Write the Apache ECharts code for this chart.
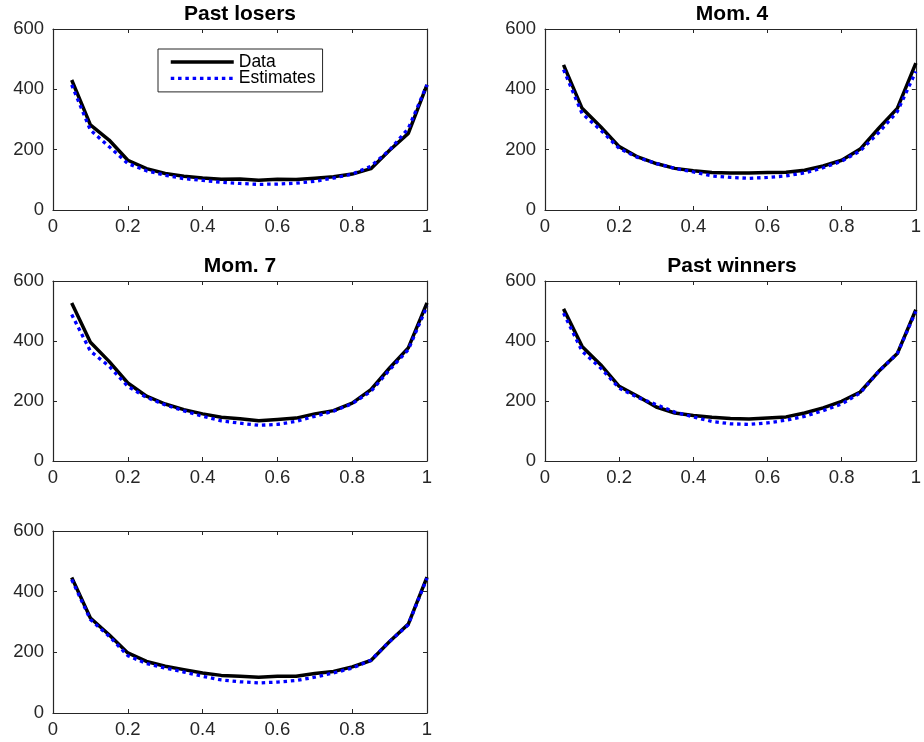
<!DOCTYPE html>
<html>
<head>
<meta charset="utf-8">
<title>U-shaped profiles: data vs. estimates</title>
<script src="https://cdn.jsdelivr.net/npm/echarts@6/dist/echarts.min.js"></script>
<style>
  html, body { margin: 0; padding: 0; background: #fff; }
  #chart { width: 924px; height: 742px; }
</style>
</head>
<body>
<div id="chart"></div>
<script>
// Horizontal grid shared by all panels
const xs = [0.05, 0.10, 0.15, 0.20, 0.25, 0.30, 0.35, 0.40, 0.45, 0.50,
            0.55, 0.60, 0.65, 0.70, 0.75, 0.80, 0.85, 0.90, 0.95, 1.00];

// Panel titles (the last panel has none)
const titles = ['Past losers', 'Mom. 4', 'Mom. 7', 'Past winners', ''];

// Series names
const seriesNames = ['Data', 'Estimates'];

// Past losers
const losersData = [431, 282, 232, 165, 137, 121, 112, 106, 102, 103,
                    99, 102, 101, 105, 110, 119, 137, 198, 254, 415];
const losersEst  = [415, 265, 210, 154, 130, 115, 104, 98, 92, 88,
                    85, 86, 89, 95, 106, 119, 145, 199, 270, 415];

// Mom. 4
const mom4Data = [481, 337, 276, 210, 176, 154, 138, 130, 124, 123,
                  123, 124, 125, 132, 146, 165, 202, 271, 337, 487];
const mom4Est  = [465, 320, 265, 204, 174, 154, 138, 126, 113, 108,
                  105, 108, 113, 123, 140, 162, 196, 257, 326, 459];

// Mom. 7
const mom7Data = [527, 396, 332, 260, 216, 190, 171, 157, 146, 141,
                  134, 138, 143, 157, 168, 193, 238, 310, 377, 527];
const mom7Est  = [488, 366, 316, 249, 212, 187, 167, 149, 134, 126,
                  119, 122, 132, 149, 166, 191, 232, 304, 371, 516];

// Past winners
const winnersData = [507, 382, 321, 249, 216, 180, 160, 152, 146, 142,
                     140, 143, 147, 160, 177, 199, 230, 299, 358, 504];
const winnersEst  = [493, 366, 310, 243, 212, 188, 163, 147, 132, 124,
                     122, 127, 136, 149, 168, 190, 227, 299, 358, 499];

// Fifth portfolio
const fifthData = [447, 313, 258, 198, 170, 154, 143, 132, 124, 121,
                   118, 121, 121, 130, 137, 152, 173, 236, 293, 448];
const fifthEst  = [440, 308, 253, 189, 163, 148, 135, 121, 109, 103,
                   99, 102, 107, 118, 132, 148, 174, 236, 291, 445];

const panelSeries = [
  [losersData, losersEst],
  [mom4Data, mom4Est],
  [mom7Data, mom7Est],
  [winnersData, winnersEst],
  [fifthData, fifthEst]
];

// Axis ranges and ticks
const xMin = 0, xMax = 1, xStep = 0.2;
const yMin = 0, yMax = 600, yStep = 200;

// Panel placement in pixels
const grids = [
  { left: 53,  top: 29,  width: 374, height: 181 },
  { left: 545, top: 29,  width: 374, height: 181 },
  { left: 53,  top: 281, width: 374, height: 180 },
  { left: 545, top: 281, width: 374, height: 180 },
  { left: 53,  top: 531, width: 374, height: 182 }
];

const FONT = '"Liberation Sans", Arial, Helvetica, sans-serif';
const AXIS_COLOR = '#262626';
const TICK_FONT = 18.5;

function axisBase(showLabel) {
  return {
    axisLine: { show: true, onZero: false, lineStyle: { color: AXIS_COLOR, width: 1.2 } },
    axisTick: { show: true, inside: true, length: 4, lineStyle: { color: AXIS_COLOR, width: 1 } },
    splitLine: { show: false },
    axisLabel: {
      show: showLabel,
      color: AXIS_COLOR,
      fontFamily: FONT,
      fontSize: TICK_FONT
    }
  };
}

const xAxes = [], yAxes = [], series = [], titleList = [];

grids.forEach((g, i) => {
  // bottom + top (box) x axes
  ['bottom', 'top'].forEach((pos, k) => {
    const a = axisBase(k === 0);
    a.type = 'value'; a.gridIndex = i; a.position = pos;
    a.min = xMin; a.max = xMax; a.interval = xStep;
    a.axisLabel.margin = 7;
    xAxes.push(a);
  });
  // left + right (box) y axes
  ['left', 'right'].forEach((pos, k) => {
    const a = axisBase(k === 0);
    a.type = 'value'; a.gridIndex = i; a.position = pos;
    a.min = yMin; a.max = yMax; a.interval = yStep;
    a.axisLabel.margin = 9;
    yAxes.push(a);
  });

  const [dataVals, estVals] = panelSeries[i];
  series.push({
    name: seriesNames[0],
    type: 'line',
    xAxisIndex: 2 * i, yAxisIndex: 2 * i,
    data: xs.map((x, j) => [x, dataVals[j]]),
    symbol: 'none',
    silent: true,
    z: 2,
    lineStyle: { color: '#000000', width: 3.5, join: 'round' },
    itemStyle: { color: '#000000' }
  });
  series.push({
    name: seriesNames[1],
    type: 'line',
    xAxisIndex: 2 * i, yAxisIndex: 2 * i,
    data: xs.map((x, j) => [x, estVals[j]]),
    symbol: 'none',
    silent: true,
    z: 3,
    lineStyle: { color: '#0000ff', width: 3.3, type: [3.5, 3.8], cap: 'butt' },
    itemStyle: { color: '#0000ff' }
  });

  if (titles[i]) {
    titleList.push({
      text: titles[i],
      left: g.left + g.width / 2,
      top: g.top - 25,
      textAlign: 'center',
      padding: 0,
      textStyle: { fontFamily: FONT, fontSize: 21, fontWeight: 'bold', color: '#000' }
    });
  }
});

const chart = echarts.init(document.getElementById('chart'), null, { renderer: 'canvas' });
chart.setOption({
  animation: false,
  backgroundColor: '#ffffff',
  title: titleList,
  grid: grids,
  xAxis: xAxes,
  yAxis: yAxes,
  legend: {
    data: seriesNames,
    orient: 'vertical',
    left: 158,
    top: 49,
    padding: [4, 7, 4.5, 11],
    itemWidth: 63,
    itemHeight: 14,
    itemGap: -1.6,
    selectedMode: false,
    backgroundColor: '#ffffff',
    borderColor: AXIS_COLOR,
    borderWidth: 1,
    borderRadius: 0,
    // line-only legend keys, drawn at the series' own stroke width
    itemStyle: { color: 'transparent', borderWidth: 0, opacity: 0 },
    lineStyle: { width: 'inherit' },
    textStyle: { fontFamily: FONT, fontSize: 17.5, color: '#000', lineHeight: 14, padding: 0 }
  },
  series: series
});
</script>
</body>
</html>
